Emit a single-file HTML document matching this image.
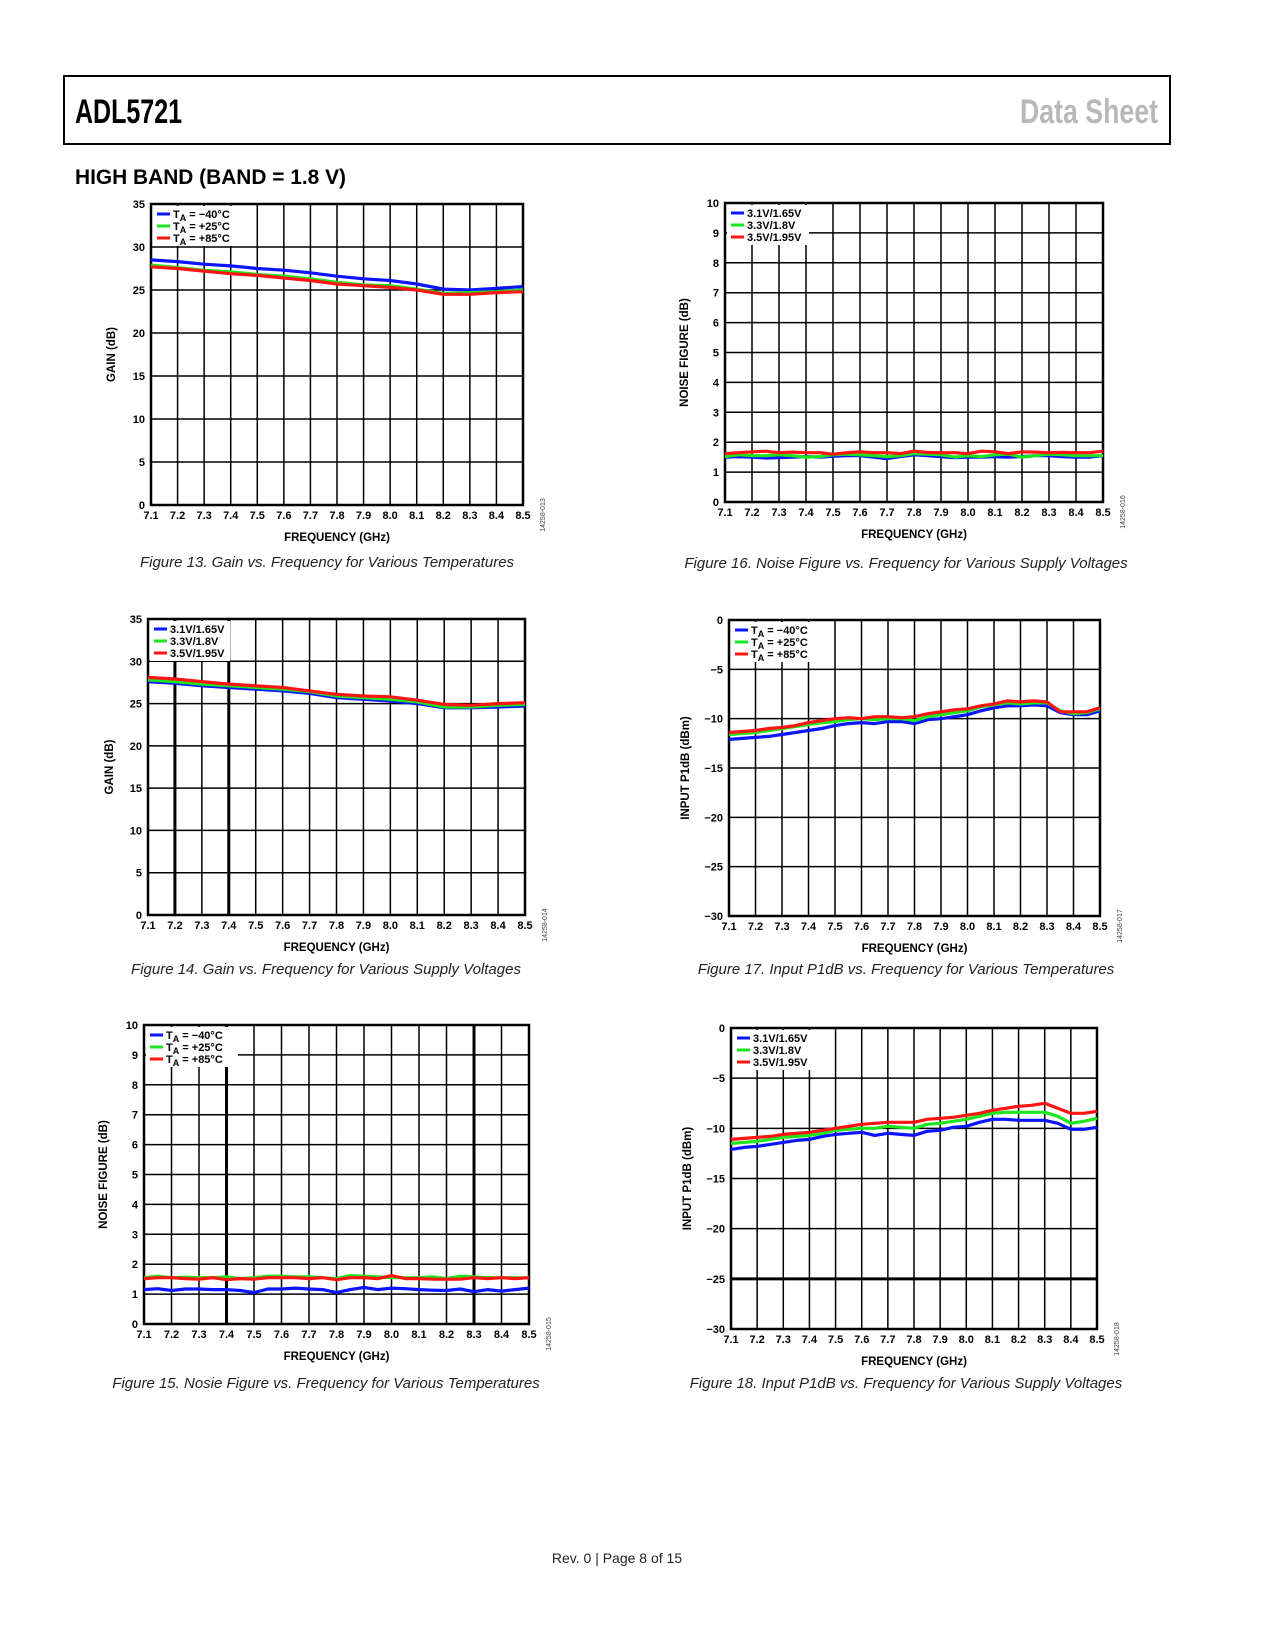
<!DOCTYPE html>
<html><head><meta charset="utf-8"><style>
html,body{margin:0;padding:0;background:#fff}
svg{display:block}
</style></head><body>
<svg id="page" width="1275" height="1650" viewBox="0 0 1275 1650" xmlns="http://www.w3.org/2000/svg" font-family="Liberation Sans, sans-serif">
<rect x="64" y="76" width="1106" height="68" fill="none" stroke="#000" stroke-width="2"/>
<text x="75" y="123" font-size="34" font-weight="bold" textLength="107" lengthAdjust="spacingAndGlyphs">ADL5721</text>
<text x="1020" y="123" font-size="34" font-weight="bold" fill="#b8b8b8" textLength="138" lengthAdjust="spacingAndGlyphs">Data Sheet</text>
<text x="75" y="184" font-size="21" font-weight="bold" textLength="271" lengthAdjust="spacingAndGlyphs">HIGH BAND (BAND = 1.8 V)</text>
<text x="617" y="1563" font-size="14" text-anchor="middle" fill="#222">Rev. 0 | Page 8 of 15</text>
</svg>
<script>
const NS='http://www.w3.org/2000/svg';
const svg=document.getElementById('page');
const xTicks=['7.1','7.2','7.3','7.4','7.5','7.6','7.7','7.8','7.9','8.0','8.1','8.2','8.3','8.4','8.5'];
const freq15=[7.1,7.2,7.3,7.4,7.5,7.6,7.7,7.8,7.9,8.0,8.1,8.2,8.3,8.4,8.5];
const freq29=[7.1,7.15,7.2,7.25,7.3,7.35,7.4,7.45,7.5,7.55,7.6,7.65,7.7,7.75,7.8,7.85,7.9,7.95,8.0,8.05,8.1,8.15,8.2,8.25,8.3,8.35,8.4,8.45,8.5];
const tempLabels=['T_A = \u221240\u00b0C','T_A = +25\u00b0C','T_A = +85\u00b0C'];
const supplyLabels=['3.1V/1.65V','3.3V/1.8V','3.5V/1.95V'];
const gainTicks=[0,5,10,15,20,25,30,35];
const nfTicks=[0,1,2,3,4,5,6,7,8,9,10];
const p1Ticks=[-30,-25,-20,-15,-10,-5,0];

const g13Blue=[28.5,28.3,28.0,27.8,27.5,27.3,27.0,26.6,26.3,26.1,25.7,25.1,25.0,25.2,25.4];
const g13Green=[27.9,27.6,27.3,27.1,26.8,26.6,26.3,25.9,25.6,25.5,25.1,24.6,24.7,24.8,25.0];
const g13Red=[27.7,27.5,27.2,26.9,26.7,26.4,26.1,25.7,25.5,25.3,25.0,24.5,24.5,24.7,24.8];

const g14Blue=[27.6,27.4,27.1,26.9,26.7,26.5,26.2,25.7,25.5,25.3,25.0,24.5,24.5,24.6,24.7];
const g14Green=[27.8,27.6,27.3,27.1,26.9,26.7,26.4,25.9,25.7,25.5,25.2,24.6,24.6,24.8,24.9];
const g14Red=[28.1,27.9,27.6,27.3,27.1,26.9,26.5,26.1,25.9,25.8,25.4,24.9,24.8,25.0,25.1];

const nf16Blue=[1.5,1.52,1.5,1.47,1.48,1.5,1.52,1.5,1.53,1.55,1.55,1.5,1.45,1.52,1.58,1.55,1.52,1.48,1.5,1.5,1.52,1.5,1.52,1.55,1.55,1.52,1.5,1.5,1.55];
const nf16Green=[1.52,1.58,1.55,1.55,1.58,1.55,1.5,1.52,1.58,1.6,1.58,1.55,1.52,1.55,1.62,1.6,1.58,1.5,1.55,1.52,1.58,1.6,1.5,1.55,1.6,1.58,1.55,1.55,1.55];
const nf16Red=[1.62,1.65,1.68,1.7,1.65,1.67,1.65,1.65,1.6,1.65,1.68,1.65,1.65,1.62,1.7,1.66,1.65,1.65,1.62,1.7,1.68,1.62,1.68,1.67,1.65,1.66,1.65,1.65,1.7];

const nf15Blue=[1.15,1.18,1.12,1.17,1.17,1.15,1.15,1.12,1.05,1.17,1.17,1.2,1.17,1.15,1.05,1.15,1.22,1.15,1.2,1.18,1.15,1.13,1.12,1.17,1.08,1.15,1.1,1.15,1.2];
const nf15Green=[1.55,1.6,1.55,1.57,1.55,1.55,1.58,1.52,1.55,1.6,1.6,1.58,1.58,1.55,1.52,1.62,1.6,1.58,1.55,1.55,1.55,1.58,1.52,1.6,1.58,1.55,1.55,1.55,1.55];
const nf15Red=[1.52,1.55,1.55,1.52,1.5,1.55,1.48,1.52,1.5,1.55,1.55,1.55,1.52,1.55,1.48,1.55,1.55,1.52,1.62,1.52,1.52,1.5,1.5,1.5,1.55,1.52,1.55,1.52,1.55];

const p17Blue=[-12.1,-12.0,-11.9,-11.8,-11.6,-11.4,-11.2,-11.0,-10.7,-10.5,-10.4,-10.5,-10.3,-10.3,-10.5,-10.1,-10.0,-9.8,-9.6,-9.2,-8.9,-8.7,-8.7,-8.6,-8.7,-9.4,-9.6,-9.6,-9.2];
const p17Green=[-11.6,-11.5,-11.4,-11.2,-11.0,-10.8,-10.6,-10.4,-10.3,-10.1,-10.0,-10.1,-10.0,-10.0,-10.2,-9.8,-9.6,-9.4,-9.2,-8.8,-8.6,-8.4,-8.5,-8.4,-8.4,-9.2,-9.5,-9.4,-9.0];
const p17Red=[-11.4,-11.3,-11.2,-11.0,-10.9,-10.7,-10.4,-10.2,-10.0,-9.9,-10.0,-9.8,-9.8,-9.9,-9.8,-9.5,-9.3,-9.1,-9.0,-8.7,-8.5,-8.2,-8.3,-8.2,-8.3,-9.3,-9.3,-9.3,-8.9];

const p18Blue=[-12.1,-11.9,-11.8,-11.6,-11.4,-11.2,-11.1,-10.8,-10.6,-10.5,-10.4,-10.7,-10.5,-10.6,-10.7,-10.3,-10.2,-9.9,-9.8,-9.4,-9.1,-9.1,-9.2,-9.2,-9.2,-9.5,-10.1,-10.1,-9.9];
const p18Green=[-11.5,-11.4,-11.3,-11.1,-10.9,-10.8,-10.7,-10.5,-10.2,-10.1,-10.0,-10.0,-9.8,-9.9,-10.0,-9.6,-9.5,-9.3,-9.1,-8.8,-8.5,-8.4,-8.4,-8.4,-8.4,-8.8,-9.5,-9.3,-9.0];
const p18Red=[-11.1,-11.0,-10.9,-10.8,-10.6,-10.5,-10.4,-10.2,-10.0,-9.8,-9.6,-9.5,-9.4,-9.4,-9.4,-9.1,-9.0,-8.9,-8.7,-8.5,-8.2,-8.0,-7.8,-7.7,-7.5,-8.0,-8.5,-8.5,-8.3];

const COLORS=['#0a14ff','#1ee61e','#ff1414'];

function mk(tag,attrs,parent){const e=document.createElementNS(NS,tag);for(const k in attrs)e.setAttribute(k,attrs[k]);(parent||svg).appendChild(e);return e;}

function chart(o){
  const g=mk('g',{});
  
  
  const sx=v=>o.L+(v-7.1)/(8.5-7.1)*(o.R-o.L);
  const sy=v=>o.B-(v-o.ymin)/(o.ymax-o.ymin)*(o.B-o.T);
  // grid
  freq15.forEach((f,i)=>{const t=o.thickX&&o.thickX.includes(i);
    const l=mk('line',{x1:sx(f),x2:sx(f),y1:o.T,y2:o.B,stroke:'#000','stroke-width':t?3:1.5},g);
    
    const tx=mk('text',{x:sx(f),y:o.B+14,'font-size':11,'font-weight':'bold','text-anchor':'middle'},g);
    tx.textContent=xTicks[i];
    });
  o.yTicks.forEach(v=>{const t=o.thickY&&o.thickY.includes(v);
    const l=mk('line',{x1:o.L,x2:o.R,y1:sy(v),y2:sy(v),stroke:'#000','stroke-width':t?3:1.5},g);
    
    const tx=mk('text',{x:o.L-6,y:sy(v)+4,'font-size':11,'font-weight':'bold','text-anchor':'end'},g);
    tx.textContent=v<0?'\u2212'+Math.abs(v):String(v);
    });
  const fr=mk('rect',{x:o.L,y:o.T,width:o.R-o.L,height:o.B-o.T,fill:'none',stroke:'#000','stroke-width':2.5},g);
  
  // legend box
  const lb=mk('rect',{x:o.L+2,y:o.T+2,width:o.legW,height:40,fill:'#fff'},g);
  
  // series
  o.series.forEach((s,i)=>{
    const d=s.map((v,j)=>(j?'L':'M')+sx(o.freqs[j]).toFixed(1)+','+sy(v).toFixed(1)).join(' ');
    const p=mk('path',{d:d,fill:'none',stroke:COLORS[i],'stroke-width':3.2,'stroke-linejoin':'round'},g);
    
    
  });
  o.labels.forEach((lab,i)=>{
    const y=o.T+10+i*12;
    const ln=mk('line',{x1:o.L+6,x2:o.L+19,y1:y,y2:y,stroke:COLORS[i],'stroke-width':3},g);
    
    const tx=mk('text',{x:o.L+22,y:y+4,'font-size':11,'font-weight':'bold'},g);
    
    if(lab.startsWith('T_A')){
      tx.appendChild(document.createTextNode('T'));
      const sub=mk('tspan',{dy:3,'font-size':9},tx);sub.textContent='A';
      const rest=mk('tspan',{dy:-3},tx);rest.textContent=lab.slice(3);
    } else tx.textContent=lab;
  });
  const xt=mk('text',{x:(o.L+o.R)/2,y:o.B+36,'font-size':11.5,'font-weight':'bold','text-anchor':'middle'},g);
  xt.textContent='FREQUENCY (GHz)';
  
  const yx=o.L-o.ytOff, yy=(o.T+o.B)/2;
  const yt=mk('text',{x:yx,y:yy,'font-size':11.5,'font-weight':'bold','text-anchor':'middle',transform:`rotate(-90 ${yx} ${yy})`},g);
  yt.textContent=o.ytitle;
  
  const ix=o.R+22, iy=o.B+10;
  const id=mk('text',{x:ix,y:iy,'font-size':7,'text-anchor':'middle',fill:'#444',transform:`rotate(-90 ${ix} ${iy})`},g);
  id.textContent=o.figId;
  
  const cp=mk('text',{x:o.capX,y:o.capY,'font-size':15,'font-style':'italic','text-anchor':'middle',fill:'#222'},g);
  cp.textContent=o.caption;
  
}

chart({name:'chart-fig13-gain-temp',L:151,R:523,T:204,B:505,ymin:0,ymax:35,yTicks:gainTicks,freqs:freq15,series:[g13Blue,g13Green,g13Red],labels:tempLabels,legW:96,ytitle:'GAIN (dB)',ytOff:36,figId:'14258-013',caption:'Figure 13. Gain vs. Frequency for Various Temperatures',capX:327,capY:567});
chart({name:'chart-fig16-nf-supply',L:725,R:1103,T:203,B:502,ymin:0,ymax:10,yTicks:nfTicks,freqs:freq29,series:[nf16Blue,nf16Green,nf16Red],labels:supplyLabels,legW:82,ytitle:'NOISE FIGURE (dB)',ytOff:37,figId:'14258-016',caption:'Figure 16. Noise Figure vs. Frequency for Various Supply Voltages',capX:906,capY:568});
chart({name:'chart-fig14-gain-supply',L:148,R:525,T:619,B:915,ymin:0,ymax:35,yTicks:gainTicks,freqs:freq15,series:[g14Blue,g14Green,g14Red],labels:supplyLabels,legW:80,ytitle:'GAIN (dB)',ytOff:35,figId:'14258-014',thickX:[1,3],caption:'Figure 14. Gain vs. Frequency for Various Supply Voltages',capX:326,capY:974});
chart({name:'chart-fig17-p1db-temp',L:729,R:1100,T:620,B:916,ymin:-30,ymax:0,yTicks:p1Ticks,freqs:freq29,series:[p17Blue,p17Green,p17Red],labels:tempLabels,legW:84,ytitle:'INPUT P1dB (dBm)',ytOff:40,figId:'14258-017',caption:'Figure 17. Input P1dB vs. Frequency for Various Temperatures',capX:906,capY:974});
chart({name:'chart-fig15-nf-temp',L:144,R:529,T:1025,B:1324,ymin:0,ymax:10,yTicks:nfTicks,freqs:freq29,series:[nf15Blue,nf15Green,nf15Red],labels:tempLabels,legW:92,ytitle:'NOISE FIGURE (dB)',ytOff:37,figId:'14258-015',thickX:[3,12],caption:'Figure 15. Nosie Figure vs. Frequency for Various Temperatures',capX:326,capY:1388});
chart({name:'chart-fig18-p1db-supply',L:731,R:1097,T:1028,B:1329,ymin:-30,ymax:0,yTicks:p1Ticks,freqs:freq29,series:[p18Blue,p18Green,p18Red],labels:supplyLabels,legW:82,ytitle:'INPUT P1dB (dBm)',ytOff:40,figId:'14258-018',thickY:[-25],caption:'Figure 18. Input P1dB vs. Frequency for Various Supply Voltages',capX:906,capY:1388});
</script>
</body></html>
